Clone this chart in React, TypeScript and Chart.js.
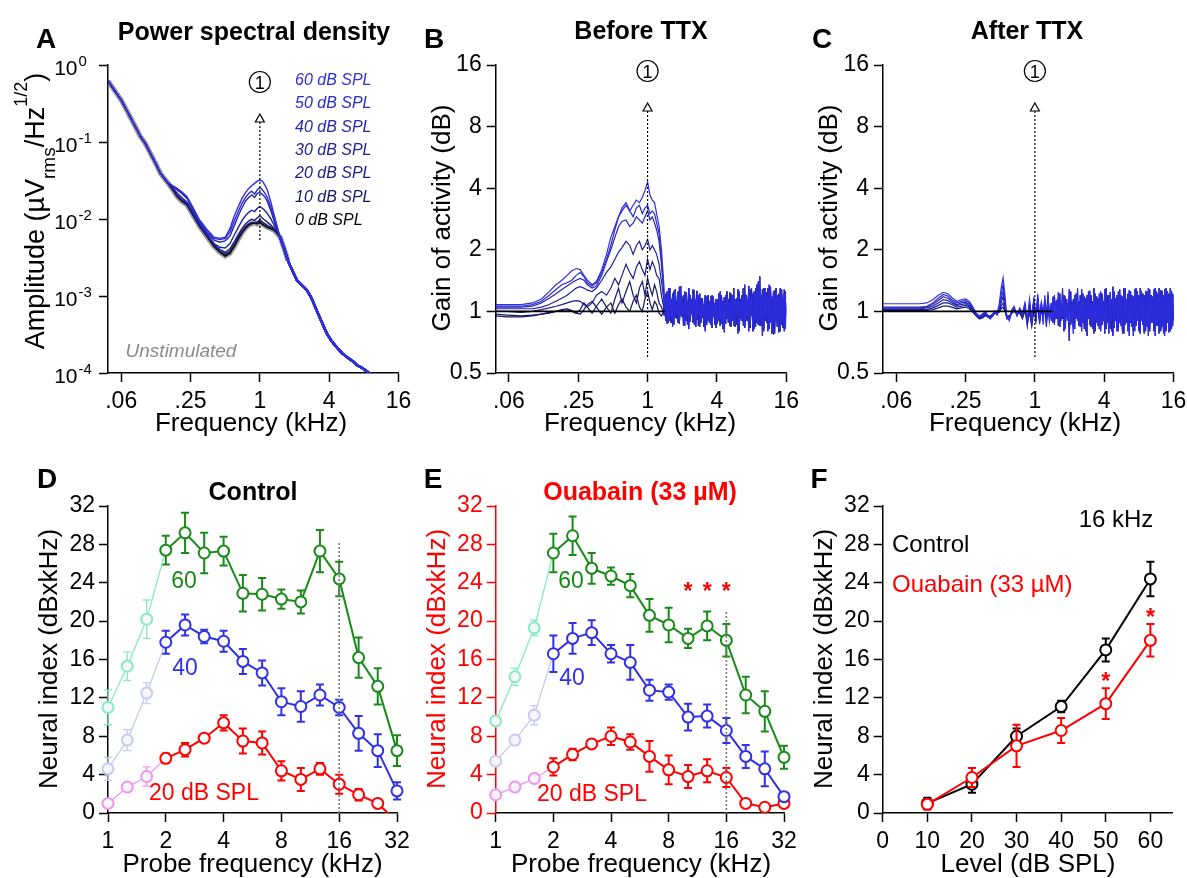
import React, { useEffect, useRef } from 'react';
import { Chart, registerables } from 'chart.js';

Chart.register(...registerables);

const FONT = "'Liberation Sans', Arial, Helvetica, sans-serif";

/* ================= Panel A : power spectral density ================= */
const freqA = [0.048, 0.0625, 0.08, 0.092, 0.101, 0.112, 0.125, 0.137, 0.156,
  0.175, 0.19, 0.21, 0.233, 0.26, 0.3, 0.35, 0.4, 0.45, 0.5, 0.55, 0.6, 0.65, 0.7, 0.75, 0.8, 0.85, 0.9, 0.95, 1.0, 1.05, 1.1, 1.16, 1.24, 1.32, 1.4,
  1.5, 1.62, 1.75, 1.9, 2.1, 2.3, 2.55, 2.8, 3.1, 3.4, 3.8, 4.2, 4.6, 5.2, 5.9, 6.5, 7.0, 7.8, 8.6, 9.3, 10];
const ampHead = [0.62, 0.351, 0.175, 0.117, 0.096, 0.071, 0.052, 0.039, 0.0305];
const ampTail = [0.0058, 0.0042, 0.0029, 0.0022, 0.0016, 0.0014, 0.0012, 0.00095, 0.00066, 0.00048, 0.00033, 0.00026, 0.00022, 0.00018, 0.000155, 0.00014, 0.000126, 0.000115, 0.000104, 0.000095, 0.00009];
const amp60Mid = [0.027, 0.025, 0.0225, 0.0195, 0.0145, 0.0097, 0.0072, 0.0058, 0.0056, 0.0058, 0.0075, 0.011, 0.0145, 0.0185, 0.022, 0.025, 0.027, 0.029, 0.031, 0.032, 0.031, 0.028, 0.024, 0.017, 0.0118, 0.0085];
const amp50Mid = [0.027, 0.025, 0.022, 0.019, 0.014, 0.0093, 0.0068, 0.0056, 0.0054, 0.0056, 0.0068, 0.0095, 0.0125, 0.016, 0.019, 0.0215, 0.023, 0.021, 0.024, 0.0255, 0.024, 0.022, 0.019, 0.0145, 0.0105, 0.0078];
const amp40Mid = [0.026, 0.024, 0.0215, 0.0185, 0.0135, 0.009, 0.0065, 0.0053, 0.005, 0.0052, 0.006, 0.0082, 0.011, 0.014, 0.017, 0.019, 0.0205, 0.019, 0.0215, 0.022, 0.021, 0.0195, 0.017, 0.013, 0.0098, 0.0074];
const amp30Mid = [0.025, 0.022, 0.019, 0.0165, 0.0125, 0.0085, 0.0062, 0.0048, 0.0043, 0.0042, 0.0048, 0.0062, 0.0078, 0.0095, 0.011, 0.0122, 0.013, 0.0125, 0.0138, 0.0145, 0.0138, 0.013, 0.0118, 0.0102, 0.0085, 0.007];
const amp20Mid = [0.0245, 0.0205, 0.0178, 0.0158, 0.012, 0.0082, 0.006, 0.0046, 0.004, 0.0037, 0.0041, 0.0051, 0.0063, 0.0075, 0.0086, 0.0094, 0.0099, 0.0096, 0.0104, 0.011, 0.0103, 0.0097, 0.0091, 0.0084, 0.0076, 0.0067];
const amp10Mid = [0.0242, 0.02, 0.0173, 0.0154, 0.0117, 0.0081, 0.0059, 0.0045, 0.0038, 0.0035, 0.0038, 0.0047, 0.0058, 0.0069, 0.0079, 0.0086, 0.009, 0.0088, 0.0092, 0.0097, 0.0091, 0.0087, 0.0082, 0.0078, 0.0073, 0.0066];
const amp0Mid = [0.024, 0.0198, 0.017, 0.0152, 0.0115, 0.008, 0.0058, 0.0044, 0.0037, 0.0033, 0.0036, 0.0044, 0.0055, 0.0066, 0.0076, 0.0083, 0.0087, 0.0089, 0.0086, 0.0092, 0.0085, 0.0082, 0.0078, 0.0075, 0.0072, 0.0066];
const levelLabels = ['60 dB SPL', '50 dB SPL', '40 dB SPL', '30 dB SPL', '20 dB SPL', '10 dB SPL', '0 dB SPL'];
const levelColors = ['#2e2ee2', '#2a2aca', '#2626b2', '#22229a', '#1c1c82', '#16166a', '#000000'];
const ampTicks = [1, 0.1, 0.01, 0.001, 0.0001];
const ampTickExp = ['0', '-1', '-2', '-3', '-4'];
const freqTicks = [0.0625, 0.25, 1, 4, 16];
const freqTickLabels = ['.06', '.25', '1', '4', '16'];

/* ================= Panels B & C : gain of activity ================= */
const gainTicks = [0.5, 1, 2, 4, 8, 16];
const gainTickLabels = ['0.5', '1', '2', '4', '8', '16'];
const unityGain = 1;
const unityRange = [0.048, 1.42];

const freqB = [0.048, 0.06, 0.08, 0.1, 0.12, 0.14, 0.16, 0.18, 0.2, 0.22, 0.24, 0.26, 0.28, 0.3, 0.33, 0.36, 0.4, 0.44, 0.48, 0.52, 0.56, 0.6, 0.65, 0.7, 0.75, 0.8, 0.85, 0.9, 0.95, 1.0, 1.05, 1.1, 1.15, 1.2, 1.26, 1.32, 1.38];
const gainB60 = [1.08, 1.08, 1.08, 1.1, 1.15, 1.25, 1.35, 1.42, 1.5, 1.58, 1.62, 1.6, 1.5, 1.42, 1.35, 1.4, 1.6, 1.9, 2.3, 2.6, 2.9, 3.1, 3.3, 3.1, 3.3, 3.5, 3.4, 3.6, 3.9, 4.3, 3.7, 3.5, 3.4, 3.0, 2.6, 2.0, 1.4];
const gainB50 = [1.06, 1.06, 1.06, 1.08, 1.12, 1.2, 1.28, 1.35, 1.38, 1.42, 1.5, 1.55, 1.48, 1.38, 1.33, 1.38, 1.55, 1.8, 2.1, 2.5, 2.9, 3.2, 3.4, 3.1, 2.9, 3.2, 3.3, 3.0, 3.2, 3.3, 3.0, 3.1, 3.0, 2.7, 2.4, 1.8, 1.3];
const gainB40 = [1.05, 1.05, 1.05, 1.06, 1.1, 1.16, 1.22, 1.28, 1.33, 1.38, 1.42, 1.45, 1.42, 1.35, 1.3, 1.33, 1.5, 1.75, 2.0, 2.3, 2.6, 2.75, 2.8, 2.6, 2.7, 2.9, 2.8, 2.7, 2.9, 3.1, 2.8, 2.9, 2.7, 2.5, 2.2, 1.7, 1.25];
const gainB30 = [1.03, 1.03, 1.03, 1.03, 1.05, 1.08, 1.12, 1.16, 1.2, 1.25, 1.3, 1.32, 1.3, 1.27, 1.25, 1.3, 1.42, 1.55, 1.65, 1.8, 1.95, 2.05, 2.2, 2.1, 1.9, 2.1, 2.2, 2.0, 2.1, 2.25, 2.0, 2.1, 2.0, 1.9, 1.7, 1.4, 1.15];
const gainB20 = [1.0, 1.0, 0.99, 1.0, 1.02, 1.04, 1.06, 1.08, 1.1, 1.12, 1.13, 1.12, 1.08, 1.05, 1.1, 1.2, 1.25, 1.2, 1.3, 1.45, 1.35, 1.5, 1.7, 1.55, 1.45, 1.65, 1.75, 1.6, 1.5, 1.8, 1.6, 1.75, 1.65, 1.5, 1.45, 1.2, 1.05];
const gainB10 = [0.97, 0.96, 0.95, 0.96, 0.97, 0.99, 1.0, 1.01, 1.02, 1.0, 0.98, 1.02, 1.1, 1.05, 0.98, 1.06, 1.15, 1.05, 0.98, 1.15, 1.3, 1.1, 1.25, 1.4, 1.2, 1.1, 1.3, 1.4, 1.2, 1.45, 1.3, 1.2, 1.35, 1.25, 1.1, 1.05, 0.98];
const gainB0 = [0.95, 0.94, 0.94, 0.95, 0.97, 0.98, 1.0, 1.02, 1.03, 1.01, 0.98, 0.97, 1.02, 1.08, 1.12, 1.05, 0.97, 1.05, 1.1, 0.98, 1.08, 1.15, 1.05, 1.0, 1.12, 1.2, 1.05, 1.0, 1.15, 1.25, 1.1, 1.02, 1.12, 1.08, 0.98, 0.95, 1.0];

const freqNoise = [1.40, 1.44, 1.48, 1.52, 1.56, 1.60, 1.65, 1.69, 1.74, 1.79,
  1.84, 1.89, 1.94, 1.99, 2.05, 2.10, 2.16, 2.22, 2.28, 2.35,
  2.41, 2.48, 2.55, 2.62, 2.69, 2.76, 2.84, 2.92, 3.00, 3.08,
  3.17, 3.26, 3.35, 3.44, 3.53, 3.63, 3.73, 3.83, 3.94, 4.05,
  4.16, 4.27, 4.39, 4.51, 4.64, 4.77, 4.90, 5.03, 5.17, 5.31,
  5.46, 5.61, 5.77, 5.93, 6.09, 6.26, 6.43, 6.61, 6.79, 6.98,
  7.17, 7.37, 7.57, 7.78, 8.00, 8.22, 8.44, 8.68, 8.92, 9.16,
  9.42, 9.68, 9.94, 10.2, 10.5, 10.8, 11.1, 11.4, 11.7, 12.0,
  12.4, 12.7, 13.1, 13.4, 13.8, 14.2, 14.6, 15.0, 15.4, 15.8, 16.0];
const noiseB1 = [1.15, 0.92, 1.25, 0.88, 1.3, 0.95, 1.18, 0.86, 1.28, 0.98,
  1.2, 0.9, 1.33, 0.94, 1.1, 0.85, 1.24, 0.97, 1.3, 0.89,
  1.15, 0.93, 1.27, 0.84, 1.18, 0.99, 1.22, 0.88, 1.12, 0.95,
  1.2, 0.86, 1.08, 0.92, 1.18, 0.83, 1.1, 0.96, 1.15, 0.87,
  1.22, 0.9, 1.12, 0.82, 1.17, 0.95, 1.25, 0.88, 1.1, 0.92,
  1.2, 0.85, 1.15, 0.97, 1.28, 0.86, 1.12, 0.9, 1.3, 0.83,
  1.2, 0.95, 1.33, 0.88, 1.18, 0.8, 1.25, 0.93, 1.35, 0.86,
  1.48, 0.9, 1.22, 0.82, 1.3, 0.95, 1.2, 0.85, 1.32, 0.78,
  1.25, 0.92, 1.3, 0.84, 1.18, 0.8, 1.28, 0.9, 1.22, 0.82, 1.1];
const noiseB2 = [0.95, 1.22, 0.87, 1.3, 0.9, 1.15, 0.84, 1.26, 0.93, 1.12,
  0.88, 1.32, 0.96, 1.18, 0.85, 1.25, 0.9, 1.1, 0.82, 1.2,
  0.97, 1.28, 0.86, 1.14, 0.91, 1.2, 0.84, 1.16, 0.93, 1.08,
  0.8, 1.18, 0.9, 1.12, 0.86, 1.2, 0.94, 1.1, 0.83, 1.15,
  0.9, 1.25, 0.87, 1.12, 0.79, 1.2, 0.92, 1.15, 0.85, 1.22,
  0.9, 1.3, 0.84, 1.16, 0.78, 1.25, 0.92, 1.2, 0.85, 1.35,
  0.9, 1.15, 0.8, 1.28, 0.95, 1.22, 0.82, 1.3, 0.88, 1.4,
  0.85, 1.2, 0.76, 1.3, 0.9, 1.24, 0.8, 1.35, 0.88, 1.18,
  0.77, 1.27, 0.9, 1.2, 0.79, 1.3, 0.86, 1.15, 0.8, 1.25, 0.95];
const noiseB3 = [1.05, 0.9, 1.18, 0.94, 1.12, 0.88, 1.22, 1.0, 1.15, 0.92,
  1.25, 0.87, 1.08, 0.95, 1.2, 0.9, 1.14, 0.86, 1.23, 0.94,
  1.1, 0.88, 1.18, 0.92, 1.26, 0.85, 1.12, 0.9, 1.16, 0.84,
  1.1, 0.95, 1.2, 0.88, 1.06, 0.9, 1.18, 0.86, 1.12, 0.92,
  1.08, 0.85, 1.2, 0.9, 1.14, 0.87, 1.1, 0.93, 1.24, 0.84,
  1.18, 0.9, 1.1, 0.86, 1.22, 0.8, 1.15, 0.92, 1.26, 0.85,
  1.1, 0.9, 1.2, 0.83, 1.3, 0.88, 1.15, 0.84, 1.25, 0.92,
  1.12, 0.85, 1.28, 0.8, 1.18, 0.88, 1.3, 0.82, 1.2, 0.9,
  1.15, 0.78, 1.25, 0.85, 1.22, 0.9, 1.12, 0.83, 1.28, 0.86, 1.05];

const freqC = [0.048, 0.06, 0.08, 0.1, 0.115, 0.13, 0.145, 0.16, 0.175, 0.19, 0.21, 0.23, 0.25, 0.27, 0.29, 0.31, 0.33, 0.35, 0.37, 0.39, 0.41, 0.43, 0.45, 0.47, 0.49, 0.51, 0.53, 0.55, 0.57, 0.6, 0.63, 0.66, 0.7, 0.74, 0.78, 0.82, 0.86, 0.9, 0.94, 0.98, 1.02, 1.06, 1.1, 1.14, 1.18, 1.22, 1.26, 1.3, 1.34, 1.38];
const gainC1 = [1.09, 1.09, 1.09, 1.09, 1.1, 1.14, 1.2, 1.24, 1.22, 1.17, 1.12, 1.14, 1.15, 1.12, 1.05, 0.98, 0.95, 0.97, 1.0, 0.96, 0.93, 0.97, 1.01, 0.98, 1.08, 1.3, 1.46, 1.2, 0.95, 0.9, 1.02, 1.06, 0.96, 1.04, 0.98, 1.1, 0.92, 1.15, 0.88, 1.18, 0.95, 1.22, 0.9, 1.12, 0.86, 1.2, 0.92, 1.25, 0.88, 1.1];
const gainC2 = [1.05, 1.05, 1.05, 1.05, 1.06, 1.1, 1.16, 1.21, 1.19, 1.14, 1.1, 1.12, 1.13, 1.1, 1.03, 0.97, 0.94, 0.96, 0.99, 0.95, 0.92, 0.96, 1.0, 0.97, 1.05, 1.22, 1.35, 1.12, 0.93, 0.91, 1.0, 1.04, 0.95, 1.03, 0.97, 1.06, 0.9, 1.1, 0.93, 1.14, 0.87, 1.18, 0.96, 1.08, 0.9, 1.15, 0.86, 1.2, 0.92, 1.05];
const gainC3 = [1.04, 1.04, 1.04, 1.04, 1.05, 1.08, 1.13, 1.18, 1.16, 1.12, 1.08, 1.1, 1.11, 1.08, 1.02, 0.96, 0.93, 0.95, 0.98, 0.94, 0.92, 0.95, 0.99, 0.96, 1.03, 1.15, 1.25, 1.08, 0.92, 0.92, 0.99, 1.03, 0.96, 1.02, 0.95, 1.08, 0.86, 1.05, 0.97, 1.12, 0.9, 1.15, 0.88, 1.1, 0.95, 1.12, 0.84, 1.18, 0.95, 1.0];
const gainC4 = [1.03, 1.03, 1.03, 1.03, 1.04, 1.06, 1.1, 1.14, 1.13, 1.1, 1.07, 1.08, 1.09, 1.06, 1.01, 0.96, 0.93, 0.94, 0.97, 0.94, 0.93, 0.95, 0.98, 0.97, 1.01, 1.1, 1.18, 1.05, 0.93, 0.93, 0.98, 1.02, 0.97, 1.0, 0.94, 1.05, 0.85, 1.08, 0.94, 1.1, 0.92, 1.12, 0.87, 1.06, 0.93, 1.1, 0.88, 1.15, 0.9, 1.02];
const gainC5 = [1.02, 1.02, 1.02, 1.02, 1.02, 1.04, 1.07, 1.1, 1.1, 1.08, 1.05, 1.06, 1.07, 1.05, 1.0, 0.95, 0.92, 0.93, 0.96, 0.94, 0.94, 0.96, 0.98, 0.98, 1.0, 1.06, 1.1, 1.02, 0.94, 0.94, 0.98, 1.01, 0.97, 0.99, 0.92, 1.03, 0.88, 1.02, 0.86, 1.06, 0.95, 1.1, 0.9, 1.04, 0.92, 1.08, 0.9, 1.12, 0.94, 1.0];
const gainC6 = [1.01, 1.01, 1.01, 1.01, 1.01, 1.02, 1.04, 1.06, 1.06, 1.05, 1.03, 1.04, 1.05, 1.03, 0.99, 0.95, 0.92, 0.93, 0.95, 0.95, 0.95, 0.97, 0.98, 0.99, 0.99, 1.03, 1.05, 1.0, 0.95, 0.95, 0.98, 1.0, 0.98, 0.98, 0.93, 1.0, 0.9, 0.98, 0.85, 1.02, 0.98, 1.05, 0.92, 1.0, 0.95, 1.04, 0.92, 1.08, 0.95, 0.98];
const noiseC1 = [0.9, 1.18, 0.86, 1.12, 0.92, 1.24, 0.84, 1.1, 0.95, 1.2,
  0.82, 1.15, 0.9, 1.28, 0.86, 1.08, 0.78, 1.2, 0.92, 1.3,
  0.85, 1.12, 0.8, 1.22, 0.9, 1.15, 0.76, 1.25, 0.88, 1.1,
  0.82, 1.3, 0.9, 1.18, 0.85, 1.22, 0.8, 1.15, 0.92, 1.28,
  0.84, 1.1, 0.78, 1.24, 0.9, 1.32, 0.83, 1.16, 0.8, 1.25,
  0.88, 1.2, 0.78, 1.3, 0.86, 1.15, 0.8, 1.27, 0.9, 1.2,
  0.76, 1.28, 0.85, 1.22, 0.8, 1.3, 0.9, 1.18, 0.78, 1.26,
  0.84, 1.3, 0.8, 1.2, 0.88, 1.28, 0.76, 1.25, 0.85, 1.3,
  0.8, 1.22, 0.78, 1.28, 0.86, 1.25, 0.79, 1.3, 0.84, 1.2, 0.9];
const noiseC2 = [1.1, 0.88, 1.2, 0.92, 1.14, 0.85, 1.22, 0.9, 1.3, 0.8,
  1.18, 0.94, 1.1, 0.72, 1.25, 0.88, 1.15, 0.82, 1.22, 0.9,
  1.12, 0.84, 1.28, 0.88, 1.18, 0.8, 1.2, 0.92, 1.26, 0.84,
  1.12, 0.78, 1.22, 0.88, 1.16, 0.82, 1.25, 0.86, 1.12, 0.78,
  1.3, 0.88, 1.2, 0.82, 1.15, 0.76, 1.25, 0.9, 1.2, 0.8,
  1.28, 0.85, 1.18, 0.78, 1.3, 0.88, 1.22, 0.76, 1.25, 0.84,
  1.18, 0.8, 1.3, 0.9, 1.2, 0.78, 1.26, 0.86, 1.2, 0.8,
  1.25, 0.76, 1.28, 0.88, 1.18, 0.8, 1.3, 0.85, 1.22, 0.78,
  1.27, 0.84, 1.2, 0.76, 1.3, 0.88, 1.22, 0.8, 1.26, 0.85, 1.1];
const noiseC3 = [1.0, 1.12, 0.9, 1.08, 0.95, 1.16, 0.88, 1.1, 0.92, 1.2,
  0.86, 1.05, 0.96, 1.18, 0.88, 1.12, 0.84, 1.15, 0.95, 1.1,
  0.86, 1.2, 0.9, 1.08, 0.82, 1.16, 0.94, 1.12, 0.86, 1.2,
  0.9, 1.1, 0.8, 1.18, 0.92, 1.1, 0.85, 1.22, 0.9, 1.12,
  0.82, 1.2, 0.92, 1.14, 0.8, 1.24, 0.88, 1.12, 0.84, 1.2,
  0.92, 1.16, 0.8, 1.22, 0.9, 1.12, 0.82, 1.24, 0.88, 1.16,
  0.8, 1.2, 0.86, 1.25, 0.82, 1.15, 0.9, 1.22, 0.8, 1.18,
  0.86, 1.25, 0.82, 1.2, 0.9, 1.15, 0.8, 1.24, 0.85, 1.2,
  0.82, 1.26, 0.88, 1.15, 0.8, 1.24, 0.86, 1.18, 0.82, 1.22, 0.9];
const gainColors = ['#2e2ee6', '#2a2ad0', '#2626b8', '#2222a0', '#1d1d88', '#181870', '#141458'];

/* ================= Panels D & E : neural index vs probe frequency ================= */
const probeFreqs = [1, 1.26, 1.59, 2, 2.52, 3.17, 4, 5.04, 6.35, 8, 10.1, 12.7, 16, 20.2, 25.4, 32];
const probeTicks = [1, 2, 4, 8, 16, 32];
const probeTickLabels = ['1', '2', '4', '8', '16', '32'];
const ctl60 = [11.0, 15.3, 20.2, 27.4, 29.2, 27.1, 27.3, 22.9, 22.8, 22.3, 22.0, 27.3, 24.4, 16.2, 13.2, 6.5];
const ctl60Err = [1.8, 1.5, 2.0, 1.5, 2.1, 2.1, 1.5, 1.9, 1.7, 1.0, 1.2, 2.2, 1.8, 2.1, 1.9, 1.6];
const ctl40 = [4.6, 7.6, 12.5, 17.8, 19.6, 18.4, 17.9, 15.8, 14.6, 11.6, 11.1, 12.3, 11.0, 8.3, 6.5, 2.3];
const ctl40Err = [1.2, 1.1, 1.1, 1.2, 1.1, 0.7, 1.1, 1.3, 1.3, 1.4, 1.6, 1.1, 0.8, 1.8, 1.7, 0.9];
const ctl20 = [1.0, 2.7, 3.8, 5.7, 6.6, 7.8, 9.4, 7.5, 7.3, 4.4, 3.5, 4.6, 3.0, 1.9, 1.0, -0.9];
const ctl20Err = [0.3, 0.4, 1.0, 0.5, 0.7, 0.4, 0.8, 1.3, 1.2, 1.0, 1.2, 0.6, 1.0, 0.6, 0.4, 0];
const ouab60 = [9.6, 14.2, 19.3, 27.1, 28.9, 25.5, 24.7, 23.7, 20.6, 19.6, 18.2, 19.5, 18.0, 12.3, 10.6, 5.8];
const ouab60Err = [0.4, 0.9, 0.8, 2.0, 2.0, 1.6, 0.9, 1.2, 1.7, 1.8, 1.0, 1.5, 1.7, 1.9, 2.1, 1.2];
const ouab40 = [5.4, 7.6, 10.2, 16.6, 18.2, 18.8, 16.6, 15.7, 12.8, 12.6, 10.0, 10.1, 8.6, 5.9, 4.6, 1.7];
const ouab40Err = [0.4, 0.5, 1.0, 1.9, 1.6, 1.3, 0.9, 1.8, 1.1, 0.8, 1.4, 1.2, 1.3, 1.2, 1.8, 0.3];
const ouab20 = [1.9, 2.7, 3.6, 4.8, 6.1, 7.2, 8.0, 7.4, 5.9, 4.5, 3.8, 4.4, 3.7, 1.0, 0.6, 1.0];
const ouab20Err = [0.2, 0.2, 0.4, 0.9, 0.6, 0.3, 0.9, 0.8, 1.6, 1.5, 1.2, 1.2, 1.0, 0.3, 0.2, 0.3];
const ouabSigFreqs = [10.1, 12.7, 16];
const markedFreq = 16;

/* ================= Panel F : neural index vs level at 16 kHz ================= */
const levels = [10, 20, 30, 40, 50, 60];
const levelTicks = [0, 10, 20, 30, 40, 50, 60];
const fCtl = [1.0, 3.0, 8.0, 11.1, 17.0, 24.4];
const fCtlErr = [0.6, 0.9, 0.8, 0.6, 1.2, 1.8];
const fOua = [0.9, 3.7, 7.0, 8.6, 11.4, 18.0];
const fOuaErr = [0.5, 1.0, 2.2, 1.3, 1.6, 1.7];
const fSigLevels = [50, 60];

/* ================= colours ================= */
const GREEN = '#188a18', GREEN_L = '#86ecc0';
const BLUE = '#3030e6', BLUE_L = '#c6caf4';
const RED = '#ff0000', PINK = '#f096f0';

/* ================= drawing helpers ================= */
function txt(ctx: any, s: string, x: number, y: number, o: any = {}) {
  ctx.save();
  ctx.font = `${o.italic ? 'italic ' : ''}${o.bold ? 'bold ' : ''}${o.size || 23}px ${FONT}`;
  ctx.fillStyle = o.color || '#000';
  ctx.textAlign = o.align || 'center';
  ctx.textBaseline = o.baseline || 'alphabetic';
  ctx.translate(x, y);
  if (o.rotate) ctx.rotate(-Math.PI / 2);
  ctx.fillText(s, 0, 0);
  ctx.restore();
}

function richRotated(ctx: any, parts: any[], bx: number, cy: number, color = '#000') {
  ctx.save();
  ctx.translate(bx, cy);
  ctx.rotate(-Math.PI / 2);
  ctx.fillStyle = color;
  ctx.textBaseline = 'alphabetic';
  ctx.textAlign = 'left';
  const widths = parts.map(([t, size]) => { ctx.font = `${size}px ${FONT}`; return ctx.measureText(t).width; });
  let x = -widths.reduce((a: number, b: number) => a + b, 0) / 2;
  parts.forEach(([t, size, dy], i) => { ctx.font = `${size}px ${FONT}`; ctx.fillText(t, x, dy); x += widths[i]; });
  ctx.restore();
}

function probeArrow(ctx: any, x: number, yCircle: number, yTip: number, yBottom: number) {
  ctx.save();
  ctx.strokeStyle = '#000';
  ctx.lineWidth = 1.2;
  ctx.beginPath();
  ctx.arc(x, yCircle, 10.5, 0, Math.PI * 2);
  ctx.stroke();
  txt(ctx, '1', x, yCircle + 6.5, { size: 18 });
  ctx.setLineDash([2, 2]);
  ctx.beginPath();
  ctx.moveTo(x, yBottom);
  ctx.lineTo(x, yTip + 8);
  ctx.stroke();
  ctx.setLineDash([]);
  ctx.beginPath();
  ctx.moveTo(x, yTip);
  ctx.lineTo(x - 4.5, yTip + 8);
  ctx.lineTo(x + 4.5, yTip + 8);
  ctx.closePath();
  ctx.fillStyle = '#fff';
  ctx.fill();
  ctx.stroke();
  ctx.restore();
}

function dottedV(ctx: any, x: number, y1: number, y2: number) {
  ctx.save();
  ctx.strokeStyle = '#777';
  ctx.lineWidth = 1.6;
  ctx.setLineDash([2, 2]);
  ctx.beginPath();
  ctx.moveTo(x, y1);
  ctx.lineTo(x, y2);
  ctx.stroke();
  ctx.restore();
}

function star(ctx: any, x: number, yc: number) {
  txt(ctx, '*', x, yc + 13, { size: 23, bold: true, color: RED });
}

/* error bars drawn beneath each dataset */
const errorBarPlugin = {
  id: 'errorBars',
  beforeDatasetDraw(chart: any, args: any) {
    const ds = chart.data.datasets[args.index];
    if (!ds.errorBars) return;
    const ys = chart.scales.y;
    const ctx = chart.ctx;
    ctx.save();
    ctx.beginPath();
    ctx.rect(0, 0, chart.width, chart.chartArea.bottom);
    ctx.clip();
    args.meta.data.forEach((pt: any, i: number) => {
      const e = ds.errorBars[i];
      if (!e) return;
      const v = ds.data[i].y;
      const yt = ys.getPixelForValue(v + e);
      const yb = ys.getPixelForValue(v - e);
      const light = i < (ds.lightCount || 0);
      ctx.strokeStyle = light ? ds.lightColor : ds.darkColor;
      ctx.lineWidth = light ? 1.3 : 2;
      ctx.beginPath();
      ctx.moveTo(pt.x, yt); ctx.lineTo(pt.x, yb);
      ctx.moveTo(pt.x - 4, yt); ctx.lineTo(pt.x + 4, yt);
      ctx.moveTo(pt.x - 4, yb); ctx.lineTo(pt.x + 4, yb);
      ctx.stroke();
    });
    ctx.restore();
  },
};
Chart.register(errorBarPlugin);

/* ================= scale helpers ================= */
function axisBase(color: string) {
  return {
    border: { display: true, color, width: 1.5 },
    grid: { display: true, drawOnChartArea: false, drawTicks: true, tickLength: 9, tickWidth: 1.5, tickColor: color, color },
  };
}
function tickOpts(color: string, padding: number, labels?: string[]) {
  const o: any = { color, padding, font: { family: FONT, size: 23 }, autoSkip: false, maxRotation: 0, minRotation: 0 };
  if (labels) o.callback = (_v: any, i: number) => labels[i] ?? '';
  return o;
}
const fixedTicks = (values: number[]) => (s: any) => { s.ticks = values.map((v) => ({ value: v })); };

function makeConfig(g: any, x: any, y: any, datasets: any[], draw: (ctx: any, chart: any, ox: number, oy: number) => void) {
  const { ox, oy } = g;
  return {
    type: 'line',
    data: { datasets },
    options: {
      responsive: false,
      animation: false,
      devicePixelRatio: 1,
      events: [],
      layout: { padding: { left: 0, top: g.padTop, right: g.padRight, bottom: 0 } },
      plugins: { legend: { display: false }, tooltip: { enabled: false }, title: { display: false } },
      elements: { line: { tension: 0 } },
      scales: {
        x: { ...x, position: 'bottom', afterFit: (s: any) => { s.height = g.xHeight; } },
        y: { ...y, position: 'left', afterFit: (s: any) => { s.width = g.yWidth; } },
      },
    },
    plugins: [{
      id: 'annotations',
      afterDraw(chart: any) {
        const ctx = chart.ctx;
        ctx.save();
        ctx.translate(-ox, -oy);
        draw(ctx, chart, ox, oy);
        ctx.restore();
      },
    }],
  };
}

const freqAxis = () => ({
  type: 'logarithmic', min: 0.048, max: 16, ...axisBase('#000'),
  ticks: tickOpts('#000', 6, freqTickLabels), afterBuildTicks: fixedTicks(freqTicks),
});
const gainAxis = () => ({
  type: 'logarithmic', min: 0.5, max: 16, ...axisBase('#000'),
  ticks: tickOpts('#000', 5, gainTickLabels), afterBuildTicks: fixedTicks(gainTicks),
});
const probeAxis = () => ({
  type: 'logarithmic', min: 1, max: 32, ...axisBase('#000'),
  ticks: tickOpts('#000', 6, probeTickLabels), afterBuildTicks: fixedTicks(probeTicks),
});
const indexAxis = (color: string) => ({
  type: 'linear', min: 0, max: 32, ...axisBase(color),
  ticks: { ...tickOpts(color, 4), stepSize: 4 },
});

/* ================= dataset builders ================= */
function ampDatasets() {
  const mids = [amp60Mid, amp50Mid, amp40Mid, amp30Mid, amp20Mid, amp10Mid, amp0Mid];
  const series = (mid: number[]) => {
    const ys = ampHead.concat(mid, ampTail);
    return freqA.map((f, i) => ({ x: f, y: ys[i] }));
  };
  const tailStart = ampHead.length + amp0Mid.length;
  const ds: any[] = mids.map((mid, k) => ({
    data: series(mid), borderColor: levelColors[k], borderWidth: 1.4, pointRadius: 0,
    segment: { borderWidth: (c: any) => (c.p0DataIndex >= tailStart ? 2.4 : 1.4) },
  }));
  // grey SEM halo around the 0 dB trace (shown up to the start of the tail)
  ds.push({
    data: series(amp0Mid).slice(0, tailStart + 3), borderColor: 'rgba(110,110,110,0.7)', borderWidth: 5, pointRadius: 0,
  });
  return ds;
}

function gainDatasets(freqs: number[], curves: number[][], noises: number[][]) {
  const ds: any[] = [{
    data: unityRange.map((x) => ({ x, y: unityGain })), borderColor: '#000', borderWidth: 1.6, pointRadius: 0,
  }];
  curves.forEach((c, k) => {
    const noise = noises[k % noises.length];
    const smoothN = freqs.length;
    const pts = freqs.map((f, i) => ({ x: f, y: c[i] }))
      .concat(freqNoise.map((f, i) => ({ x: f, y: noise[i] })))
      .filter((p) => p.y !== undefined);
    ds.push({
      data: pts, borderColor: gainColors[k], borderWidth: 1.2, pointRadius: 0,
      segment: { borderWidth: (cx: any) => (cx.p0DataIndex >= smoothN ? 1.0 : 1.2) },
    });
  });
  return ds;
}

function probeDataset(vals: number[], errs: number[], dark: string, light: string) {
  const nLight = 3;
  return {
    data: probeFreqs.map((f, i) => ({ x: f, y: vals[i] })),
    errorBars: errs, lightCount: nLight, lightColor: light, darkColor: dark,
    borderColor: dark, borderWidth: 2,
    segment: {
      borderColor: (c: any) => (c.p0DataIndex < nLight ? light : dark),
      borderWidth: (c: any) => (c.p0DataIndex < nLight ? 1.3 : 2),
    },
    pointRadius: 5.5, pointBorderWidth: 2,
    pointBorderColor: probeFreqs.map((_, i) => (i < nLight ? light : dark)),
    pointBackgroundColor: probeFreqs.map((_, i) => (i < nLight ? '#f6f6fa' : '#fff')),
    clip: { left: false, top: false, right: false, bottom: 0 },
  };
}

function levelDataset(vals: number[], errs: number[], color: string) {
  return {
    data: levels.map((l, i) => ({ x: l, y: vals[i] })),
    errorBars: errs, lightCount: 0, lightColor: color, darkColor: color,
    borderColor: color, borderWidth: 2, pointRadius: 5.5, pointBorderWidth: 2,
    pointBorderColor: color, pointBackgroundColor: '#fff', clip: false,
  };
}

/* ================= panels ================= */
const PANELS = [
  {
    id: 'A', g: { ox: 0, oy: 0, w: 445, h: 440, yWidth: 108, xHeight: 67, padTop: 65, padRight: 46.5 },
    make: (g: any) => makeConfig(g, freqAxis(), {
      type: 'logarithmic', min: 0.0001, max: 1, ...axisBase('#000'),
      ticks: { ...tickOpts('#000', 4), callback: () => '' }, afterBuildTicks: fixedTicks(ampTicks),
    }, ampDatasets(), (ctx, chart, ox, oy) => {
      const ys = chart.scales.y, xs = chart.scales.x;
      ampTicks.forEach((v, i) => {
        const py = ys.getPixelForValue(v) + oy;
        txt(ctx, '10', 77.5, py + 9.5, { size: 21, align: 'right' });
        txt(ctx, ampTickExp[i], 78.5, py + 0.5, { size: 15, align: 'left' });
      });
      txt(ctx, 'A', 46, 48, { size: 28, bold: true });
      txt(ctx, 'Power spectral density', 254, 40, { size: 25, bold: true });
      richRotated(ctx, [['Amplitude (µV', 27, 0], ['rms', 19, 11], ['/Hz', 27, 0], ['1/2', 18, -17], [')', 27, 0]], 44, 211);
      txt(ctx, 'Frequency (kHz)', 251, 431, { size: 26 });
      levelLabels.forEach((l, i) => txt(ctx, l, 295, 85 + i * 23.33, { size: 16, italic: true, color: levelColors[i], align: 'left' }));
      txt(ctx, 'Unstimulated', 181, 357, { size: 19, italic: true, color: '#8a8a8a' });
      probeArrow(ctx, xs.getPixelForValue(1) + ox, 82, 114, 240);
    }),
  },
  {
    id: 'B', g: { ox: 400, oy: 0, w: 420, h: 440, yWidth: 95.7, xHeight: 67, padTop: 65, padRight: 33.8 },
    make: (g: any) => makeConfig(g, freqAxis(), gainAxis(),
      gainDatasets(freqB, [gainB60, gainB50, gainB40, gainB30, gainB20, gainB10, gainB0], [noiseB1, noiseB2, noiseB3]),
      (ctx, chart, ox) => {
        txt(ctx, 'B', 434, 48, { size: 28, bold: true });
        txt(ctx, 'Before TTX', 641, 39, { size: 25, bold: true });
        txt(ctx, 'Gain of activity (dB)', 450.3, 218, { size: 26, rotate: true });
        txt(ctx, 'Frequency (kHz)', 640, 431, { size: 26 });
        probeArrow(ctx, chart.scales.x.getPixelForValue(1) + ox, 71, 103, 357);
      }),
  },
  {
    id: 'C', g: { ox: 787, oy: 0, w: 410, h: 440, yWidth: 96, xHeight: 67, padTop: 65, padRight: 23.5 },
    make: (g: any) => makeConfig(g, freqAxis(), gainAxis(),
      gainDatasets(freqC, [gainC1, gainC2, gainC3, gainC4, gainC5, gainC6], [noiseC1, noiseC2, noiseC3]),
      (ctx, chart, ox) => {
        txt(ctx, 'C', 822, 48, { size: 28, bold: true });
        txt(ctx, 'After TTX', 1027, 39, { size: 25, bold: true });
        txt(ctx, 'Gain of activity (dB)', 836.9, 218, { size: 26, rotate: true });
        txt(ctx, 'Frequency (kHz)', 1025, 431, { size: 26 });
        probeArrow(ctx, chart.scales.x.getPixelForValue(1) + ox, 71, 103, 357);
      }),
  },
  {
    id: 'D', g: { ox: 0, oy: 440, w: 445, h: 438, yWidth: 108, xHeight: 65, padTop: 66, padRight: 48 },
    make: (g: any) => makeConfig(g, probeAxis(), indexAxis('#000'), [
      probeDataset(ctl60, ctl60Err, GREEN, GREEN_L),
      probeDataset(ctl40, ctl40Err, BLUE, BLUE_L),
      probeDataset(ctl20, ctl20Err, RED, PINK),
    ], (ctx, chart, ox, oy) => {
      txt(ctx, 'D', 47, 488, { size: 28, bold: true });
      txt(ctx, 'Control', 253, 500, { size: 25, bold: true });
      txt(ctx, 'Neural index (dBxkHz)', 56.9, 659, { size: 26, rotate: true });
      txt(ctx, 'Probe frequency (kHz)', 252.5, 872, { size: 26 });
      txt(ctx, '60', 184, 588, { size: 23, color: GREEN });
      txt(ctx, '40', 185, 675, { size: 23, color: BLUE });
      txt(ctx, '20 dB SPL', 204, 800, { size: 23, color: RED });
      dottedV(ctx, chart.scales.x.getPixelForValue(markedFreq) + ox, 543, chart.chartArea.bottom + oy);
    }),
  },
  {
    id: 'E', g: { ox: 400, oy: 440, w: 420, h: 438, yWidth: 95.7, xHeight: 65, padTop: 66, padRight: 36 },
    make: (g: any) => makeConfig(g, probeAxis(), indexAxis(RED), [
      probeDataset(ouab60, ouab60Err, GREEN, GREEN_L),
      probeDataset(ouab40, ouab40Err, BLUE, BLUE_L),
      probeDataset(ouab20, ouab20Err, RED, PINK),
    ], (ctx, chart, ox, oy) => {
      const xs = chart.scales.x;
      txt(ctx, 'E', 433, 488, { size: 28, bold: true });
      txt(ctx, 'Ouabain (33 µM)', 640, 500, { size: 25, bold: true, color: RED });
      txt(ctx, 'Neural index (dBxkHz)', 445.3, 659, { size: 26, rotate: true, color: RED });
      txt(ctx, 'Probe frequency (kHz)', 641, 872, { size: 26 });
      txt(ctx, '60', 571, 588, { size: 23, color: GREEN });
      txt(ctx, '40', 572, 685, { size: 23, color: BLUE });
      txt(ctx, '20 dB SPL', 592, 801, { size: 23, color: RED });
      dottedV(ctx, xs.getPixelForValue(markedFreq) + ox, 612, chart.chartArea.bottom + oy);
      ouabSigFreqs.forEach((f) => star(ctx, xs.getPixelForValue(f) + ox, 586));
    }),
  },
  {
    id: 'F', g: { ox: 787, oy: 440, w: 410, h: 438, yWidth: 95.7, xHeight: 65, padTop: 66, padRight: 24.3 },
    make: (g: any) => makeConfig(g, {
      type: 'linear', min: 0, max: 65, ...axisBase('#000'),
      ticks: tickOpts('#000', 6), afterBuildTicks: fixedTicks(levelTicks),
    }, indexAxis('#000'), [
      levelDataset(fOua, fOuaErr, RED),
      levelDataset(fCtl, fCtlErr, '#000'),
    ], (ctx, chart, ox, oy) => {
      const xs = chart.scales.x, ys = chart.scales.y;
      txt(ctx, 'F', 819, 488, { size: 28, bold: true });
      txt(ctx, 'Neural index (dBxkHz)', 831.9, 659, { size: 26, rotate: true });
      txt(ctx, 'Level (dB SPL)', 1028, 872, { size: 26 });
      txt(ctx, '16 kHz', 1116, 527, { size: 24 });
      txt(ctx, 'Control', 892, 552, { size: 24, align: 'left' });
      txt(ctx, 'Ouabain (33 µM)', 892, 592, { size: 24, align: 'left', color: RED });
      fSigLevels.forEach((l) => {
        const i = levels.indexOf(l);
        star(ctx, xs.getPixelForValue(l) + ox, ys.getPixelForValue(fOua[i] + fOuaErr[i]) + oy - 12);
      });
    }),
  },
];

function Panel({ spec }: any) {
  const ref = useRef<HTMLCanvasElement | null>(null);
  useEffect(() => {
    const chart = new Chart(ref.current as HTMLCanvasElement, spec.make(spec.g) as any);
    return () => chart.destroy();
  }, [spec]);
  const g = spec.g;
  return (
    <canvas
      ref={ref}
      width={g.w}
      height={g.h}
      style={{ position: 'absolute', left: g.ox, top: g.oy, width: g.w, height: g.h }}
    />
  );
}

export default function App() {
  return (
    <div style={{ position: 'absolute', left: 0, top: 0, width: 1187, height: 878, overflow: 'hidden', background: '#fff' }}>
      {PANELS.map((p) => <Panel key={p.id} spec={p} />)}
    </div>
  );
}
